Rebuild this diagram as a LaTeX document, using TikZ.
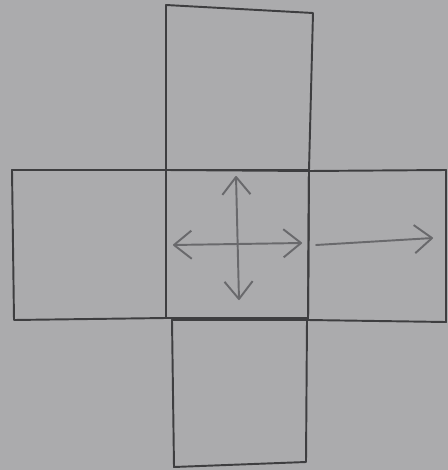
\documentclass[tikz,border=0pt]{standalone}
\usetikzlibrary{arrows.meta}
\definecolor{paper}{RGB}{171,171,173}
\definecolor{pencil}{RGB}{62,62,64}
\definecolor{softpencil}{RGB}{105,105,108}
\tikzset{
  face/.style={draw=pencil, line width=1.1pt, line join=round},
  move/.style={draw=softpencil, line width=1.1pt, line cap=round,
    arrows={-Straight Barb[width=16pt, length=10pt, line join=round]}},
  twoway/.style={move, arrows={Straight Barb[width=16pt, length=10pt, line join=round]-Straight Barb[width=16pt, length=10pt, line join=round]}}
}
\begin{document}
\begin{tikzpicture}[x=0.02cm, y=-0.02cm]
    % paper
    \fill[paper] (0,0) rectangle (448,470);

    % the five faces of the net
    \draw[face] (166,5) -- (313,13) -- (309,170) -- (166,170) -- cycle;      % top
    \draw[face] (12,170) -- (166,170) -- (166,318) -- (14,320) -- cycle;     % left
    \draw[face] (166,170) -- (309,171) -- (308,318) -- (166,318) -- cycle;   % centre
    \draw[face] (309,171) -- (446,170) -- (446,322) -- (308,320) -- cycle;   % right
    \draw[face] (172,320) -- (307,320) -- (306,462) -- (174,467) -- cycle;   % bottom

    % arrow ends
    \coordinate (upEnd) at (236,176);
    \coordinate (downEnd) at (239,300);
    \coordinate (leftEnd) at (173,245);
    \coordinate (rightEnd) at (302,243);
    \coordinate (outStart) at (316,245);
    \coordinate (outEnd) at (433,238);

    % arrows on the centre face and out to the right
    \draw[twoway] (downEnd) -- (upEnd);
    \draw[twoway] (leftEnd) -- (rightEnd);
    \draw[move] (outStart) -- (outEnd);
\end{tikzpicture}
\end{document}
